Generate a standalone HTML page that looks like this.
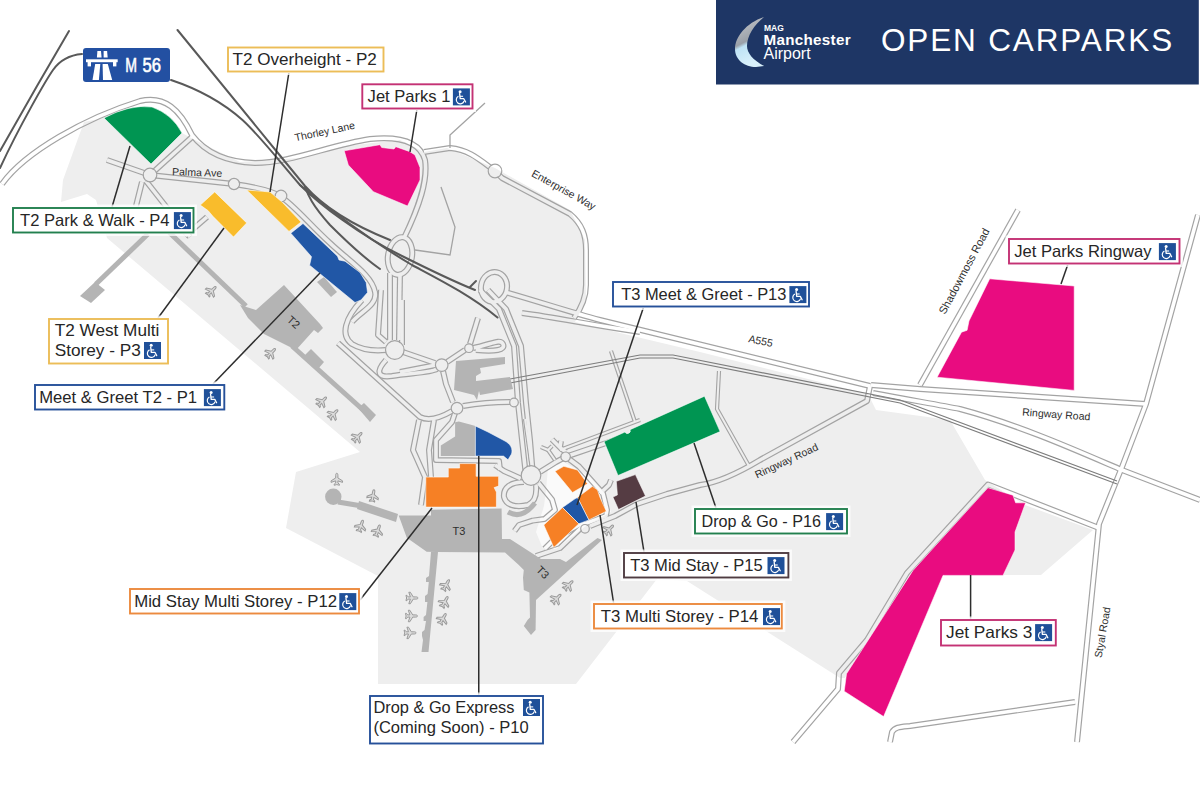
<!DOCTYPE html>
<html><head><meta charset="utf-8"><style>
html,body{margin:0;padding:0;background:#fff;width:1200px;height:799px;overflow:hidden}
svg{display:block;font-family:"Liberation Sans",sans-serif}
</style></head><body>
<svg width="1200" height="799" viewBox="0 0 1200 799">
<polygon points="84.0,122.0 104.0,118.0 182.0,133.0 195.0,140.0 240.0,162.0 300.0,158.0 345.0,146.0 400.0,140.0 424.0,152.0 447.0,148.0 495.0,168.0 570.0,210.0 585.0,240.0 586.0,300.0 575.0,322.0 620.0,333.0 700.0,352.0 868.0,394.0 876.0,410.0 950.0,420.0 985.0,480.0 1025.0,505.0 1093.0,530.0 1041.0,575.0 1003.0,575.0 1014.0,535.0 1025.0,503.0 988.0,488.0 913.0,570.0 845.0,678.0 840.0,678.0 687.0,581.0 657.0,579.0 576.0,684.0 378.0,684.0 378.0,576.0 286.0,528.0 296.0,472.0 360.0,452.0 107.0,238.0 96.0,200.0 87.0,194.0 61.0,202.0 63.0,180.0" fill="#eeeeee"/>
<polygon points="548,468 562,461 590,477 606,495 611,512 586,526 556,549 543,549 536,532 544,506 546,490" fill="#fafafa"/>
<defs><mask id="rm" maskUnits="userSpaceOnUse" x="0" y="0" width="1200" height="799"><rect width="1200" height="799" fill="#fff"/><g fill="none" stroke="#000" stroke-linejoin="round" stroke-linecap="butt">
<path d="M2,184 C25,152 85,118 140,101 C165,95 180,110 192,135 C205,152 225,162 255,163 C290,163 330,145 370,139 C400,136 420,142 425,160 C428,180 420,205 404,238" stroke-width="3.6"/>
<path d="M390,273 L390,340" stroke-width="3.6"/>
<path d="M400,273 L399,340" stroke-width="3.6"/>
<path d="M424,152 L450,148 C470,150 480,160 495,171 L502,178 L570,214 C582,224 586,235 586,250 L586,285 C586,300 580,310 574,318" stroke-width="3.6"/>
<path d="M107,160 L150,175 L234,184 C255,187 270,190 280,196 C295,206 310,225 330,243 C350,262 372,275 375,292 C378,305 360,312 352,322" stroke-width="3.6"/>
<path d="M150,175 L192,137" stroke-width="3.6"/>
<path d="M146,181 L190,237" stroke-width="3.6"/>
<path d="M142,182 L136,206" stroke-width="3.6"/>
<path d="M185,236 L207,217" stroke-width="3.6"/>
<path d="M362,300 C345,318 340,335 352,344 C362,350 376,351 386,350" stroke-width="3.6"/>
<path d="M381,290 L378,335 L386,342" stroke-width="3.6"/>
<path d="M403,352 L435,363" stroke-width="3.6"/>
<path d="M386,360 C375,372 378,378 392,376 C410,373 430,373 437,369" stroke-width="3.6"/>
<path d="M338,343 L420,417 C428,421 440,418 452,411" stroke-width="3.6"/>
<path d="M443,371 L446,384 L453,402" stroke-width="3.6"/>
<path d="M463,406 C480,403 500,402 510,402" stroke-width="3.6"/>
<path d="M447,362 L465,350" stroke-width="3.6"/>
<path d="M470,344 L478,318" stroke-width="3.6"/>
<path d="M473,348 C490,345 500,338 503,344 C506,350 495,352 476,350" stroke-width="3.6"/>
<path d="M480,290 L499,309 L514,346 L518,403 L522,440 L526,476" stroke-width="3.6"/>
<path d="M488,290 L506,309 L521,346 L526,403 L530,440 L533,476" stroke-width="3.6"/>
<path d="M455,413 L452,422 L436,440 L436,460 L499,461 L500,470" stroke-width="3.6"/>
<path d="M419,420 L413,450 L425,477 L421,505" stroke-width="3.6"/>
<path d="M434,420 L429,450 L431,477 L431,505" stroke-width="3.6"/>
<path d="M400,372 L436,365" stroke-width="3.6"/>
<path d="M402,300 L402,345" stroke-width="3.6"/>
<path d="M505,292 C540,302 570,312 600,320 L870,386" stroke-width="3.6"/>
<path d="M522,313 C560,318 590,325 640,332" stroke-width="3.6"/>
<path d="M871,385 L920,389 L1146,404" stroke-width="3.6"/>
<path d="M873,393 C910,400 940,405 960,409 C1020,425 1080,452 1122,470 L1200,500" stroke-width="3.6"/>
<path d="M870,386 L867,401 L760,460 C735,475 715,483 700,485 L667,494 L637,504 L615,516 L590,526" stroke-width="3.6"/>
<path d="M1018,210 L920,385" stroke-width="3.6"/>
<path d="M1198,215 L1146,404 L1122,467 L1099,524 L1077,742" stroke-width="3.6"/>
<path d="M1099,528 L988,484.5 L907,573 L867,640 L839,673 L838,689 L793,742" stroke-width="3.6"/>
<path d="M890,742 L892,732 C895,727 900,727 910,726 L1075,702" stroke-width="3.6"/>
<path d="M520.5,478.5 L504,471 L495,465" stroke-width="3.6"/>
<path d="M524,482 C510,482 503,488 504,497 C506,505 515,508 528,505 C535,502 537,495 536,485" stroke-width="3.6"/>
<path d="M540,472 L556,462 L565.6,456.8 L615,440" stroke-width="3.6"/>
<path d="M569,459 L579,466.5 L591,480 L603,493.5 L607,510 L606,516 L585,523.6 L579,525 L555,538.6 L544.5,549" stroke-width="3.6"/>
<path d="M538.5,483 L552,499.6 L555,510 L544.5,519 L532.5,520.6 L519,525 L514.5,531" stroke-width="3.6"/>
<path d="M600,493.5 L609,485 L611,480" stroke-width="3.6"/>
<path d="M552,439.5 L561,448.5 L566,452" stroke-width="3.6"/>
<path d="M561,441 L560,447" stroke-width="3.6"/>
<path d="M585,524 L560,548 L536,556" stroke-width="3.6"/>
<path d="M611,351 L635,422" stroke-width="2.0"/>
<path d="M719,371 L717,409 L749,466" stroke-width="2.0"/>
<path d="M560,450 L640,420" stroke-width="2.0"/>
<path d="M525,419 L531,462" stroke-width="2.0"/>
<path d="M555,460 L548,450 L552,446" stroke-width="2.0"/>
<path d="M548,450 L541,447" stroke-width="2.0"/>
<ellipse cx="400" cy="256" rx="12" ry="19" stroke-width="3.6" transform="rotate(10 400 256)"/>
<ellipse cx="494" cy="287" rx="13" ry="15" stroke-width="3.6" transform="rotate(10 494 287)"/>
</g><g fill="#000"><circle cx="150" cy="175" r="6.2"/><circle cx="234" cy="184" r="5.0"/><circle cx="281" cy="196" r="5.2"/><circle cx="495" cy="171" r="6.2"/><circle cx="394.8" cy="350" r="8.7"/><circle cx="441.7" cy="365.1" r="5.7"/><circle cx="457" cy="408.2" r="5.2"/><circle cx="514" cy="402.5" r="3.7"/><circle cx="469" cy="348.2" r="3.7"/><circle cx="531" cy="475.5" r="9.2"/><circle cx="565.6" cy="456.8" r="4.2"/><circle cx="585" cy="528.8" r="3.7"/></g></mask></defs>
<g mask="url(#rm)"><g fill="none" stroke="#a3a3a3" stroke-linejoin="round" stroke-linecap="butt">
<path d="M2,184 C25,152 85,118 140,101 C165,95 180,110 192,135 C205,152 225,162 255,163 C290,163 330,145 370,139 C400,136 420,142 425,160 C428,180 420,205 404,238" stroke-width="6.0"/>
<path d="M390,273 L390,340" stroke-width="6.0"/>
<path d="M400,273 L399,340" stroke-width="6.0"/>
<path d="M424,152 L450,148 C470,150 480,160 495,171 L502,178 L570,214 C582,224 586,235 586,250 L586,285 C586,300 580,310 574,318" stroke-width="6.0"/>
<path d="M107,160 L150,175 L234,184 C255,187 270,190 280,196 C295,206 310,225 330,243 C350,262 372,275 375,292 C378,305 360,312 352,322" stroke-width="6.0"/>
<path d="M150,175 L192,137" stroke-width="6.0"/>
<path d="M146,181 L190,237" stroke-width="6.0"/>
<path d="M142,182 L136,206" stroke-width="6.0"/>
<path d="M185,236 L207,217" stroke-width="6.0"/>
<path d="M362,300 C345,318 340,335 352,344 C362,350 376,351 386,350" stroke-width="6.0"/>
<path d="M381,290 L378,335 L386,342" stroke-width="6.0"/>
<path d="M403,352 L435,363" stroke-width="6.0"/>
<path d="M386,360 C375,372 378,378 392,376 C410,373 430,373 437,369" stroke-width="6.0"/>
<path d="M338,343 L420,417 C428,421 440,418 452,411" stroke-width="6.0"/>
<path d="M443,371 L446,384 L453,402" stroke-width="6.0"/>
<path d="M463,406 C480,403 500,402 510,402" stroke-width="6.0"/>
<path d="M447,362 L465,350" stroke-width="6.0"/>
<path d="M470,344 L478,318" stroke-width="6.0"/>
<path d="M473,348 C490,345 500,338 503,344 C506,350 495,352 476,350" stroke-width="6.0"/>
<path d="M480,290 L499,309 L514,346 L518,403 L522,440 L526,476" stroke-width="6.0"/>
<path d="M488,290 L506,309 L521,346 L526,403 L530,440 L533,476" stroke-width="6.0"/>
<path d="M455,413 L452,422 L436,440 L436,460 L499,461 L500,470" stroke-width="6.0"/>
<path d="M419,420 L413,450 L425,477 L421,505" stroke-width="6.0"/>
<path d="M434,420 L429,450 L431,477 L431,505" stroke-width="6.0"/>
<path d="M400,372 L436,365" stroke-width="6.0"/>
<path d="M402,300 L402,345" stroke-width="6.0"/>
<path d="M505,292 C540,302 570,312 600,320 L870,386" stroke-width="6.0"/>
<path d="M522,313 C560,318 590,325 640,332" stroke-width="6.0"/>
<path d="M871,385 L920,389 L1146,404" stroke-width="6.0"/>
<path d="M873,393 C910,400 940,405 960,409 C1020,425 1080,452 1122,470 L1200,500" stroke-width="6.0"/>
<path d="M870,386 L867,401 L760,460 C735,475 715,483 700,485 L667,494 L637,504 L615,516 L590,526" stroke-width="6.0"/>
<path d="M1018,210 L920,385" stroke-width="6.0"/>
<path d="M1198,215 L1146,404 L1122,467 L1099,524 L1077,742" stroke-width="6.0"/>
<path d="M1099,528 L988,484.5 L907,573 L867,640 L839,673 L838,689 L793,742" stroke-width="6.0"/>
<path d="M890,742 L892,732 C895,727 900,727 910,726 L1075,702" stroke-width="6.0"/>
<path d="M520.5,478.5 L504,471 L495,465" stroke-width="6.0"/>
<path d="M524,482 C510,482 503,488 504,497 C506,505 515,508 528,505 C535,502 537,495 536,485" stroke-width="6.0"/>
<path d="M540,472 L556,462 L565.6,456.8 L615,440" stroke-width="6.0"/>
<path d="M569,459 L579,466.5 L591,480 L603,493.5 L607,510 L606,516 L585,523.6 L579,525 L555,538.6 L544.5,549" stroke-width="6.0"/>
<path d="M538.5,483 L552,499.6 L555,510 L544.5,519 L532.5,520.6 L519,525 L514.5,531" stroke-width="6.0"/>
<path d="M600,493.5 L609,485 L611,480" stroke-width="6.0"/>
<path d="M552,439.5 L561,448.5 L566,452" stroke-width="6.0"/>
<path d="M561,441 L560,447" stroke-width="6.0"/>
<path d="M585,524 L560,548 L536,556" stroke-width="6.0"/>
<path d="M611,351 L635,422" stroke-width="4.2"/>
<path d="M719,371 L717,409 L749,466" stroke-width="4.2"/>
<path d="M560,450 L640,420" stroke-width="4.2"/>
<path d="M525,419 L531,462" stroke-width="4.2"/>
<path d="M555,460 L548,450 L552,446" stroke-width="4.2"/>
<path d="M548,450 L541,447" stroke-width="4.2"/>
<ellipse cx="400" cy="256" rx="12" ry="19" stroke-width="6.0" transform="rotate(10 400 256)"/>
<ellipse cx="494" cy="287" rx="13" ry="15" stroke-width="6.0" transform="rotate(10 494 287)"/>
</g></g>
<g fill="none" stroke="#a3a3a3" stroke-width="1.3"><path d="M450,148 L450,135 L485,103"/><path d="M441,187 L455,227 L450,255 L415,250"/></g>
<g fill="none" stroke="#a3a3a3" stroke-width="1.2"><circle cx="150" cy="175" r="6.8"/><circle cx="234" cy="184" r="5.6"/><circle cx="281" cy="196" r="5.8"/><circle cx="495" cy="171" r="6.8"/><circle cx="394.8" cy="350" r="9.3"/><circle cx="441.7" cy="365.1" r="6.3"/><circle cx="457" cy="408.2" r="5.8"/><circle cx="514" cy="402.5" r="4.3"/><circle cx="469" cy="348.2" r="4.3"/><circle cx="531" cy="475.5" r="9.8"/><circle cx="565.6" cy="456.8" r="4.8"/><circle cx="585" cy="528.8" r="4.3"/></g>
<g fill="none" stroke="#595959" stroke-width="2" stroke-linecap="round"><path d="M69,31 L37,86 L0,151"/><path d="M82,54 C70,55 60,60 53,70 C46,80 20,125 0,168"/><path d="M177.5,30 L277.5,152.5 L305,186 C320,203 345,222 390,240"/><path d="M171,80 C195,88 220,100 242.5,120 C260,136 280,162 300,185 C320,205 360,235 400,255 C430,270 455,282 475,290"/><path d="M305,187 C308,195 312,205 330,225 C345,240 360,255 380,269"/><path d="M300,185 C330,210 370,240 412,265 C440,280 470,295 497.5,317.5"/><path d="M470,287 L476,281"/></g>
<g fill="none" stroke="#7d7d7d" stroke-width="1.2"><path d="M510,379 L640,355 L673,355 L900,400 L1117,481"/><path d="M510,383 L640,358 L673,358 L900,403 L1117,484"/></g>
<polygon points="80.0,296.0 91.0,303.0 105.0,290.0 95.0,282.0" fill="#b4b4b4"/>
<polygon points="317.0,282.0 324.0,277.0 337.0,292.0 331.0,297.0" fill="#b4b4b4"/>
<polygon points="240.0,305.0 256.0,310.0 284.0,285.0 320.0,324.0 323.0,328.0 318.0,333.0 314.0,330.0 296.0,350.0 264.0,334.0 248.0,318.0" fill="#b4b4b4"/>
<polygon points="304.0,356.0 311.0,349.0 324.0,362.0 318.0,369.0" fill="#b4b4b4"/>
<polygon points="358.0,408.0 364.0,403.0 376.0,415.0 370.0,422.0" fill="#b4b4b4"/>
<polygon points="456.0,361.0 505.0,357.0 505.0,364.0 480.0,368.0 481.0,373.0 476.0,376.0 476.0,381.0 510.0,377.0 513.0,389.0 480.0,395.0 479.0,391.0 477.0,400.0 474.0,395.0 454.0,390.0" fill="#b4b4b4"/>
<polygon points="440.8,456.1 440.8,445.5 455.1,436.5 455.1,422.3 458.8,421.5 470.1,424.5 475.4,426.0 475.4,456.1" fill="#b4b4b4"/>
<polygon points="398.7,515.5 431.0,515.5 431.0,509.7 501.6,508.6 502.0,539.0 510.0,539.0 541.0,559.0 560.0,559.0 566.0,562.0 597.5,538.0 602.0,540.0 536.0,600.0 535.6,630.0 531.0,635.0 523.8,626.0 527.5,620.0 530.0,617.5 529.4,592.5 523.8,590.0 523.0,577.5 523.8,570.0 518.8,565.0 505.0,552.5 436.0,552.0 426.7,551.7 406.8,537.7" fill="#b4b4b4"/>
<polygon points="438.0,552.0 428.5,652.0 421.5,652.0 423.0,640.0 422.0,636.0 422.0,632.0 424.5,630.0 426.0,621.0 423.6,621.0 423.6,617.0 426.0,615.0 427.4,602.0 425.0,602.0 425.0,596.0 427.6,594.0 428.8,582.0 426.0,582.0 426.0,578.0 429.0,576.0 431.0,552.0" fill="#b4b4b4"/>
<polygon points="359.0,501.0 398.0,514.0 396.0,522.0 357.0,509.0" fill="#b4b4b4"/>
<g stroke="#b4b4b4" stroke-width="5" fill="none"><path d="M148,234 L96,284"/><path d="M150,214 L246,306"/><path d="M292,346 L372,418"/><path d="M338,502 L362,506"/></g>
<circle cx="333.3" cy="496.8" r="8.2" fill="#b4b4b4"/>
<path d="M508,512 Q522,520 535,503" stroke="#b4b4b4" stroke-width="5" fill="none"/>
<path d="M0,-5.5 C0.8,-5.5 1,-4.5 1,-3.5 L1,-1.2 L5.2,1.4 L5.2,2.8 L1,1.4 L1,3.4 L2.4,4.5 L2.4,5.4 L0,4.8 L-2.4,5.4 L-2.4,4.5 L-1,3.4 L-1,1.4 L-5.2,2.8 L-5.2,1.4 L-1,-1.2 L-1,-3.5 C-1,-4.5 -0.8,-5.5 0,-5.5 Z" fill="#dcdcdc" stroke="#999" stroke-width="0.9" transform="translate(211.6 291) rotate(45) scale(1.1)"/>
<path d="M0,-5.5 C0.8,-5.5 1,-4.5 1,-3.5 L1,-1.2 L5.2,1.4 L5.2,2.8 L1,1.4 L1,3.4 L2.4,4.5 L2.4,5.4 L0,4.8 L-2.4,5.4 L-2.4,4.5 L-1,3.4 L-1,1.4 L-5.2,2.8 L-5.2,1.4 L-1,-1.2 L-1,-3.5 C-1,-4.5 -0.8,-5.5 0,-5.5 Z" fill="#dcdcdc" stroke="#999" stroke-width="0.9" transform="translate(271 353) rotate(45) scale(1.1)"/>
<path d="M0,-5.5 C0.8,-5.5 1,-4.5 1,-3.5 L1,-1.2 L5.2,1.4 L5.2,2.8 L1,1.4 L1,3.4 L2.4,4.5 L2.4,5.4 L0,4.8 L-2.4,5.4 L-2.4,4.5 L-1,3.4 L-1,1.4 L-5.2,2.8 L-5.2,1.4 L-1,-1.2 L-1,-3.5 C-1,-4.5 -0.8,-5.5 0,-5.5 Z" fill="#dcdcdc" stroke="#999" stroke-width="0.9" transform="translate(322 401.5) rotate(45) scale(1.1)"/>
<path d="M0,-5.5 C0.8,-5.5 1,-4.5 1,-3.5 L1,-1.2 L5.2,1.4 L5.2,2.8 L1,1.4 L1,3.4 L2.4,4.5 L2.4,5.4 L0,4.8 L-2.4,5.4 L-2.4,4.5 L-1,3.4 L-1,1.4 L-5.2,2.8 L-5.2,1.4 L-1,-1.2 L-1,-3.5 C-1,-4.5 -0.8,-5.5 0,-5.5 Z" fill="#dcdcdc" stroke="#999" stroke-width="0.9" transform="translate(333.4 414.2) rotate(45) scale(1.1)"/>
<path d="M0,-5.5 C0.8,-5.5 1,-4.5 1,-3.5 L1,-1.2 L5.2,1.4 L5.2,2.8 L1,1.4 L1,3.4 L2.4,4.5 L2.4,5.4 L0,4.8 L-2.4,5.4 L-2.4,4.5 L-1,3.4 L-1,1.4 L-5.2,2.8 L-5.2,1.4 L-1,-1.2 L-1,-3.5 C-1,-4.5 -0.8,-5.5 0,-5.5 Z" fill="#dcdcdc" stroke="#999" stroke-width="0.9" transform="translate(357.5 437) rotate(45) scale(1.1)"/>
<path d="M0,-5.5 C0.8,-5.5 1,-4.5 1,-3.5 L1,-1.2 L5.2,1.4 L5.2,2.8 L1,1.4 L1,3.4 L2.4,4.5 L2.4,5.4 L0,4.8 L-2.4,5.4 L-2.4,4.5 L-1,3.4 L-1,1.4 L-5.2,2.8 L-5.2,1.4 L-1,-1.2 L-1,-3.5 C-1,-4.5 -0.8,-5.5 0,-5.5 Z" fill="#dcdcdc" stroke="#999" stroke-width="0.9" transform="translate(336.8 479.3) rotate(0) scale(1.1)"/>
<path d="M0,-5.5 C0.8,-5.5 1,-4.5 1,-3.5 L1,-1.2 L5.2,1.4 L5.2,2.8 L1,1.4 L1,3.4 L2.4,4.5 L2.4,5.4 L0,4.8 L-2.4,5.4 L-2.4,4.5 L-1,3.4 L-1,1.4 L-5.2,2.8 L-5.2,1.4 L-1,-1.2 L-1,-3.5 C-1,-4.5 -0.8,-5.5 0,-5.5 Z" fill="#dcdcdc" stroke="#999" stroke-width="0.9" transform="translate(373 495.7) rotate(10) scale(1.1)"/>
<path d="M0,-5.5 C0.8,-5.5 1,-4.5 1,-3.5 L1,-1.2 L5.2,1.4 L5.2,2.8 L1,1.4 L1,3.4 L2.4,4.5 L2.4,5.4 L0,4.8 L-2.4,5.4 L-2.4,4.5 L-1,3.4 L-1,1.4 L-5.2,2.8 L-5.2,1.4 L-1,-1.2 L-1,-3.5 C-1,-4.5 -0.8,-5.5 0,-5.5 Z" fill="#dcdcdc" stroke="#999" stroke-width="0.9" transform="translate(360.8 526) rotate(20) scale(1.1)"/>
<path d="M0,-5.5 C0.8,-5.5 1,-4.5 1,-3.5 L1,-1.2 L5.2,1.4 L5.2,2.8 L1,1.4 L1,3.4 L2.4,4.5 L2.4,5.4 L0,4.8 L-2.4,5.4 L-2.4,4.5 L-1,3.4 L-1,1.4 L-5.2,2.8 L-5.2,1.4 L-1,-1.2 L-1,-3.5 C-1,-4.5 -0.8,-5.5 0,-5.5 Z" fill="#dcdcdc" stroke="#999" stroke-width="0.9" transform="translate(377.7 530.7) rotate(20) scale(1.1)"/>
<path d="M0,-5.5 C0.8,-5.5 1,-4.5 1,-3.5 L1,-1.2 L5.2,1.4 L5.2,2.8 L1,1.4 L1,3.4 L2.4,4.5 L2.4,5.4 L0,4.8 L-2.4,5.4 L-2.4,4.5 L-1,3.4 L-1,1.4 L-5.2,2.8 L-5.2,1.4 L-1,-1.2 L-1,-3.5 C-1,-4.5 -0.8,-5.5 0,-5.5 Z" fill="#dcdcdc" stroke="#999" stroke-width="0.9" transform="translate(411.9 598) rotate(90) scale(1.1)"/>
<path d="M0,-5.5 C0.8,-5.5 1,-4.5 1,-3.5 L1,-1.2 L5.2,1.4 L5.2,2.8 L1,1.4 L1,3.4 L2.4,4.5 L2.4,5.4 L0,4.8 L-2.4,5.4 L-2.4,4.5 L-1,3.4 L-1,1.4 L-5.2,2.8 L-5.2,1.4 L-1,-1.2 L-1,-3.5 C-1,-4.5 -0.8,-5.5 0,-5.5 Z" fill="#dcdcdc" stroke="#999" stroke-width="0.9" transform="translate(411.4 616) rotate(90) scale(1.1)"/>
<path d="M0,-5.5 C0.8,-5.5 1,-4.5 1,-3.5 L1,-1.2 L5.2,1.4 L5.2,2.8 L1,1.4 L1,3.4 L2.4,4.5 L2.4,5.4 L0,4.8 L-2.4,5.4 L-2.4,4.5 L-1,3.4 L-1,1.4 L-5.2,2.8 L-5.2,1.4 L-1,-1.2 L-1,-3.5 C-1,-4.5 -0.8,-5.5 0,-5.5 Z" fill="#dcdcdc" stroke="#999" stroke-width="0.9" transform="translate(410 632.9) rotate(90) scale(1.1)"/>
<path d="M0,-5.5 C0.8,-5.5 1,-4.5 1,-3.5 L1,-1.2 L5.2,1.4 L5.2,2.8 L1,1.4 L1,3.4 L2.4,4.5 L2.4,5.4 L0,4.8 L-2.4,5.4 L-2.4,4.5 L-1,3.4 L-1,1.4 L-5.2,2.8 L-5.2,1.4 L-1,-1.2 L-1,-3.5 C-1,-4.5 -0.8,-5.5 0,-5.5 Z" fill="#dcdcdc" stroke="#999" stroke-width="0.9" transform="translate(446.1 585) rotate(30) scale(1.1)"/>
<path d="M0,-5.5 C0.8,-5.5 1,-4.5 1,-3.5 L1,-1.2 L5.2,1.4 L5.2,2.8 L1,1.4 L1,3.4 L2.4,4.5 L2.4,5.4 L0,4.8 L-2.4,5.4 L-2.4,4.5 L-1,3.4 L-1,1.4 L-5.2,2.8 L-5.2,1.4 L-1,-1.2 L-1,-3.5 C-1,-4.5 -0.8,-5.5 0,-5.5 Z" fill="#dcdcdc" stroke="#999" stroke-width="0.9" transform="translate(444.7 601.9) rotate(30) scale(1.1)"/>
<path d="M0,-5.5 C0.8,-5.5 1,-4.5 1,-3.5 L1,-1.2 L5.2,1.4 L5.2,2.8 L1,1.4 L1,3.4 L2.4,4.5 L2.4,5.4 L0,4.8 L-2.4,5.4 L-2.4,4.5 L-1,3.4 L-1,1.4 L-5.2,2.8 L-5.2,1.4 L-1,-1.2 L-1,-3.5 C-1,-4.5 -0.8,-5.5 0,-5.5 Z" fill="#dcdcdc" stroke="#999" stroke-width="0.9" transform="translate(442.8 618.8) rotate(30) scale(1.1)"/>
<path d="M0,-5.5 C0.8,-5.5 1,-4.5 1,-3.5 L1,-1.2 L5.2,1.4 L5.2,2.8 L1,1.4 L1,3.4 L2.4,4.5 L2.4,5.4 L0,4.8 L-2.4,5.4 L-2.4,4.5 L-1,3.4 L-1,1.4 L-5.2,2.8 L-5.2,1.4 L-1,-1.2 L-1,-3.5 C-1,-4.5 -0.8,-5.5 0,-5.5 Z" fill="#dcdcdc" stroke="#999" stroke-width="0.9" transform="translate(568.5 585.2) rotate(45) scale(1.1)"/>
<path d="M0,-5.5 C0.8,-5.5 1,-4.5 1,-3.5 L1,-1.2 L5.2,1.4 L5.2,2.8 L1,1.4 L1,3.4 L2.4,4.5 L2.4,5.4 L0,4.8 L-2.4,5.4 L-2.4,4.5 L-1,3.4 L-1,1.4 L-5.2,2.8 L-5.2,1.4 L-1,-1.2 L-1,-3.5 C-1,-4.5 -0.8,-5.5 0,-5.5 Z" fill="#dcdcdc" stroke="#999" stroke-width="0.9" transform="translate(556.5 598.7) rotate(45) scale(1.1)"/>
<path d="M0,-5.5 C0.8,-5.5 1,-4.5 1,-3.5 L1,-1.2 L5.2,1.4 L5.2,2.8 L1,1.4 L1,3.4 L2.4,4.5 L2.4,5.4 L0,4.8 L-2.4,5.4 L-2.4,4.5 L-1,3.4 L-1,1.4 L-5.2,2.8 L-5.2,1.4 L-1,-1.2 L-1,-3.5 C-1,-4.5 -0.8,-5.5 0,-5.5 Z" fill="#dcdcdc" stroke="#999" stroke-width="0.9" transform="translate(609 529.6) rotate(45) scale(1.1)"/>
<path d="M104,118 Q130,104 152,107 Q172,114 182,133 L151,164 Z" fill="#009552" stroke="#fff" stroke-width="0.7" stroke-opacity="0.8"/>
<path d="M344.2,150.8 380.0,144.7 381.7,147.5 394.0,149.0 395.8,146.7 410.0,151.7 415.0,155.0 420.0,167.5 420.0,180.0 407.5,206.0 373.3,191.7 348.3,165.0Z" fill="#e90c80" stroke="#fff" stroke-width="0.7" stroke-opacity="0.8"/>
<path d="M200.3,205.1 214.7,191.9 246.7,222.9 233.5,237.0 212.9,216.3 208.2,210.7Z" fill="#f9bc2c" stroke="#fff" stroke-width="0.7" stroke-opacity="0.8"/>
<path d="M246.7,190.0 270.1,192.0 282.3,202.3 301.1,222.0 289.0,231.4Z" fill="#f9bc2c" stroke="#fff" stroke-width="0.7" stroke-opacity="0.8"/>
<path d="M290.8,233.2 303.0,223.5 337.5,256.2 339.0,260.0 345.0,261.2 360.0,272.5 366.2,282.5 367.5,292.5 361.0,300.0 355.0,302.5 309.6,265.2 311.5,256.7Z" fill="#2157a6" stroke="#fff" stroke-width="0.7" stroke-opacity="0.8"/>
<path d="M475.4,426 L488,432 L504,440.5 C511,444 513,449 511.5,454 L508,459.8 L503.5,456.1 L475.4,456.1 Z" fill="#2157a6" stroke="#fff" stroke-width="0.7" stroke-opacity="0.8"/>
<path d="M425.8,477.1 448.3,477.1 448.3,468.1 459.6,468.1 459.6,463.6 476.1,463.6 476.1,476.3 498.6,476.3 498.6,486.1 494.1,487.6 496.4,492.1 496.4,507.1 425.8,507.1Z" fill="#f68025" stroke="#fff" stroke-width="0.7" stroke-opacity="0.8"/>
<path d="M555.0,471.3 563.8,466.3 577.5,470.0 587.5,483.8 572.5,492.5Z" fill="#f68025" stroke="#fff" stroke-width="0.7" stroke-opacity="0.8"/>
<path d="M577.5,497.5 592.5,486.3 597.5,490.0 600.0,497.5 606.3,511.3 588.8,520.0Z" fill="#f68025" stroke="#fff" stroke-width="0.7" stroke-opacity="0.8"/>
<path d="M562.5,507.5 575.0,498.8 577.5,497.5 588.8,520.0 578.8,523.8Z" fill="#2157a6" stroke="#fff" stroke-width="0.7" stroke-opacity="0.8"/>
<path d="M543.8,525.0 562.5,507.5 578.8,523.8 553.8,547.5Z" fill="#f68025" stroke="#fff" stroke-width="0.7" stroke-opacity="0.8"/>
<path d="M612.9,497.1 617.4,494.9 616.3,481.3 635.4,474.6 645.5,496.0 618.5,509.5Z" fill="#553c43" stroke="#fff" stroke-width="0.7" stroke-opacity="0.8"/>
<path d="M604,441.5 L625,432 A2.5,2.5 0 0 0 630,429.7 L704.5,396.2 L720.1,431.6 L618,475.5 Z" fill="#009552" stroke="#fff" stroke-width="0.7" stroke-opacity="0.8"/>
<path d="M989.7,278.8 1074.2,286.0 1074.2,390.4 937.1,377.2 961.5,332.2 967.1,330.3 969.0,320.9Z" fill="#e90c80" stroke="#fff" stroke-width="0.7" stroke-opacity="0.8"/>
<path d="M988.0,487.7 1013.0,495.2 1015.6,502.8 1025.6,502.8 1015.0,532.0 1015.0,550.0 1003.0,575.4 943.0,575.4 883.6,716.6 844.2,691.2 846.5,673.8 913.0,570.4Z" fill="#e90c80" stroke="#fff" stroke-width="0.7" stroke-opacity="0.8"/>
<g stroke="#2d2d2d" stroke-width="1.5"><line x1="289" y1="72" x2="270" y2="192"/><line x1="417" y1="109" x2="410" y2="152"/><line x1="112" y1="207" x2="130" y2="146"/><line x1="158" y1="318" x2="224" y2="228"/><line x1="213" y1="384" x2="320" y2="273"/><line x1="643.6" y1="307" x2="577" y2="505"/><line x1="1068" y1="264" x2="1061" y2="284"/><line x1="716" y1="508" x2="694" y2="443"/><line x1="644" y1="552" x2="636" y2="502"/><line x1="613.6" y1="603" x2="600" y2="515"/><line x1="360" y1="600" x2="432" y2="508"/><line x1="478.75" y1="695" x2="478.75" y2="456"/><line x1="970.6" y1="619" x2="970.6" y2="575"/></g>
<text x="325.5" y="135" font-size="10.5" fill="#2e2e2e" text-anchor="middle" transform="rotate(-12 325.5 135)">Thorley Lane</text>
<text x="197" y="176" font-size="10.5" fill="#2e2e2e" text-anchor="middle" transform="rotate(2 197 176)">Palma Ave</text>
<text x="562" y="193" font-size="10.5" fill="#2e2e2e" text-anchor="middle" transform="rotate(29 562 193)">Enterprise Way</text>
<text x="760" y="344.5" font-size="10.5" fill="#2e2e2e" text-anchor="middle" transform="rotate(12 760 344.5)">A555</text>
<text x="788" y="464" font-size="10.5" fill="#2e2e2e" text-anchor="middle" transform="rotate(-25 788 464)">Ringway Road</text>
<text x="1056" y="418" font-size="10.5" fill="#2e2e2e" text-anchor="middle" transform="rotate(4 1056 418)">Ringway Road</text>
<text x="967.5" y="273" font-size="11" fill="#2e2e2e" text-anchor="middle" transform="rotate(-62 967.5 273)">Shadowmoss Road</text>
<text x="1106" y="633" font-size="10.5" fill="#2e2e2e" text-anchor="middle" transform="rotate(-80 1106 633)">Styal Road</text>
<text x="291" y="325" font-size="11" fill="#2e2e2e" text-anchor="middle" transform="rotate(42 291 325)">T2</text>
<text x="459" y="535" font-size="11" fill="#2e2e2e" text-anchor="middle" transform="rotate(0 459 535)">T3</text>
<text x="540" y="575" font-size="11" fill="#2e2e2e" text-anchor="middle" transform="rotate(45 540 575)">T3</text>
<rect x="226.5" y="46.0" width="158.5" height="27.0" fill="#fff" stroke="#fff" stroke-width="4" stroke-opacity="0.75"/>
<rect x="228" y="47.5" width="155.5" height="24.0" fill="#fff" stroke="#ecbd58" stroke-width="1.9"/>
<text x="232.6" y="65.3" font-size="16.5" fill="#262626" textLength="144.19999999999996" lengthAdjust="spacingAndGlyphs">T2 Overheight - P2</text>
<rect x="360.8" y="82.8" width="113.19999999999999" height="27.200000000000003" fill="#fff" stroke="#fff" stroke-width="4" stroke-opacity="0.75"/>
<rect x="362.3" y="84.3" width="110.19999999999999" height="24.200000000000003" fill="#fff" stroke="#c43274" stroke-width="1.9"/>
<text x="367.59999999999997" y="102.1" font-size="16.5" fill="#262626" textLength="82.90000000000005" lengthAdjust="spacingAndGlyphs">Jet Parks 1</text>
<g transform="translate(452.90000000000003,88.39999999999999) scale(1.0)"><rect width="17" height="17" fill="#1f5099"/><circle cx="7.2" cy="3.3" r="1.5" fill="#fff"/><path d="M6.7,5.2 L7.3,10.3 L10.9,10.3 L12.7,13.6" fill="none" stroke="#fff" stroke-width="1.3" stroke-linecap="round" stroke-linejoin="round"/><path d="M7,7.9 L10.2,7.9" stroke="#fff" stroke-width="1.1"/><path d="M5.5,7.9 A4,4 0 1 0 11.2,12.6" fill="none" stroke="#fff" stroke-width="1.2"/></g>
<rect x="11.5" y="206.5" width="183.5" height="27.5" fill="#fff" stroke="#fff" stroke-width="4" stroke-opacity="0.75"/>
<rect x="13" y="208" width="180.5" height="24.5" fill="#fff" stroke="#23804f" stroke-width="1.9"/>
<text x="20.0" y="225.8" font-size="16.5" fill="#262626" textLength="149.59999999999997" lengthAdjust="spacingAndGlyphs">T2 Park &amp; Walk - P4</text>
<g transform="translate(173.9,212.1) scale(1.0)"><rect width="17" height="17" fill="#1f5099"/><circle cx="7.2" cy="3.3" r="1.5" fill="#fff"/><path d="M6.7,5.2 L7.3,10.3 L10.9,10.3 L12.7,13.6" fill="none" stroke="#fff" stroke-width="1.3" stroke-linecap="round" stroke-linejoin="round"/><path d="M7,7.9 L10.2,7.9" stroke="#fff" stroke-width="1.1"/><path d="M5.5,7.9 A4,4 0 1 0 11.2,12.6" fill="none" stroke="#fff" stroke-width="1.2"/></g>
<rect x="47.5" y="317.5" width="122" height="47.5" fill="#fff" stroke="#fff" stroke-width="4" stroke-opacity="0.75"/>
<rect x="49" y="319" width="119" height="44.5" fill="#fff" stroke="#ecbd58" stroke-width="1.9"/>
<text x="54.7" y="336.3" font-size="16.5" fill="#262626" textLength="104.7" lengthAdjust="spacingAndGlyphs">T2 West Multi</text>
<text x="54.7" y="356.0" font-size="16.5" fill="#262626" textLength="86.2" lengthAdjust="spacingAndGlyphs">Storey - P3</text>
<g transform="translate(144,342) scale(1.0)"><rect width="17" height="17" fill="#1f5099"/><circle cx="7.2" cy="3.3" r="1.5" fill="#fff"/><path d="M6.7,5.2 L7.3,10.3 L10.9,10.3 L12.7,13.6" fill="none" stroke="#fff" stroke-width="1.3" stroke-linecap="round" stroke-linejoin="round"/><path d="M7,7.9 L10.2,7.9" stroke="#fff" stroke-width="1.1"/><path d="M5.5,7.9 A4,4 0 1 0 11.2,12.6" fill="none" stroke="#fff" stroke-width="1.2"/></g>
<rect x="33.5" y="383.5" width="192.3" height="27.5" fill="#fff" stroke="#fff" stroke-width="4" stroke-opacity="0.75"/>
<rect x="35" y="385" width="189.3" height="24.5" fill="#fff" stroke="#26519a" stroke-width="1.9"/>
<text x="39.2" y="402.8" font-size="16.5" fill="#262626" textLength="157.89999999999998" lengthAdjust="spacingAndGlyphs">Meet &amp; Greet T2 - P1</text>
<g transform="translate(203.9,389.1) scale(1.0)"><rect width="17" height="17" fill="#1f5099"/><circle cx="7.2" cy="3.3" r="1.5" fill="#fff"/><path d="M6.7,5.2 L7.3,10.3 L10.9,10.3 L12.7,13.6" fill="none" stroke="#fff" stroke-width="1.3" stroke-linecap="round" stroke-linejoin="round"/><path d="M7,7.9 L10.2,7.9" stroke="#fff" stroke-width="1.1"/><path d="M5.5,7.9 A4,4 0 1 0 11.2,12.6" fill="none" stroke="#fff" stroke-width="1.2"/></g>
<rect x="611.5" y="280.5" width="199" height="27.5" fill="#fff" stroke="#fff" stroke-width="4" stroke-opacity="0.75"/>
<rect x="613" y="282" width="196" height="24.5" fill="#fff" stroke="#26519a" stroke-width="1.9"/>
<text x="621.2" y="299.8" font-size="16.5" fill="#262626" textLength="165.2" lengthAdjust="spacingAndGlyphs">T3 Meet &amp; Greet - P13</text>
<g transform="translate(789.4,286.1) scale(1.0)"><rect width="17" height="17" fill="#1f5099"/><circle cx="7.2" cy="3.3" r="1.5" fill="#fff"/><path d="M6.7,5.2 L7.3,10.3 L10.9,10.3 L12.7,13.6" fill="none" stroke="#fff" stroke-width="1.3" stroke-linecap="round" stroke-linejoin="round"/><path d="M7,7.9 L10.2,7.9" stroke="#fff" stroke-width="1.1"/><path d="M5.5,7.9 A4,4 0 1 0 11.2,12.6" fill="none" stroke="#fff" stroke-width="1.2"/></g>
<rect x="1007.5" y="237.5" width="173.5" height="27.5" fill="#fff" stroke="#fff" stroke-width="4" stroke-opacity="0.75"/>
<rect x="1009" y="239" width="170.5" height="24.5" fill="#fff" stroke="#c43274" stroke-width="1.9"/>
<text x="1014.2" y="256.8" font-size="16.5" fill="#262626" textLength="137.40000000000003" lengthAdjust="spacingAndGlyphs">Jet Parks Ringway</text>
<g transform="translate(1158.8999999999999,243.1) scale(1.0)"><rect width="17" height="17" fill="#1f5099"/><circle cx="7.2" cy="3.3" r="1.5" fill="#fff"/><path d="M6.7,5.2 L7.3,10.3 L10.9,10.3 L12.7,13.6" fill="none" stroke="#fff" stroke-width="1.3" stroke-linecap="round" stroke-linejoin="round"/><path d="M7,7.9 L10.2,7.9" stroke="#fff" stroke-width="1.1"/><path d="M5.5,7.9 A4,4 0 1 0 11.2,12.6" fill="none" stroke="#fff" stroke-width="1.2"/></g>
<rect x="693.5" y="507.5" width="155" height="27.5" fill="#fff" stroke="#fff" stroke-width="4" stroke-opacity="0.75"/>
<rect x="695" y="509" width="152" height="24.5" fill="#fff" stroke="#23804f" stroke-width="1.9"/>
<text x="701.5" y="526.8" font-size="16.5" fill="#262626" textLength="119.40000000000005" lengthAdjust="spacingAndGlyphs">Drop &amp; Go - P16</text>
<g transform="translate(826.1,513.1) scale(1.0)"><rect width="17" height="17" fill="#1f5099"/><circle cx="7.2" cy="3.3" r="1.5" fill="#fff"/><path d="M6.7,5.2 L7.3,10.3 L10.9,10.3 L12.7,13.6" fill="none" stroke="#fff" stroke-width="1.3" stroke-linecap="round" stroke-linejoin="round"/><path d="M7,7.9 L10.2,7.9" stroke="#fff" stroke-width="1.1"/><path d="M5.5,7.9 A4,4 0 1 0 11.2,12.6" fill="none" stroke="#fff" stroke-width="1.2"/></g>
<rect x="622.5" y="551.5" width="167.39999999999998" height="27.5" fill="#fff" stroke="#fff" stroke-width="4" stroke-opacity="0.75"/>
<rect x="624" y="553" width="164.39999999999998" height="24.5" fill="#fff" stroke="#4f3c42" stroke-width="1.9"/>
<text x="630.2" y="570.8" font-size="16.5" fill="#262626" textLength="132.59999999999997" lengthAdjust="spacingAndGlyphs">T3 Mid Stay - P15</text>
<g transform="translate(767.5,557.1) scale(1.0)"><rect width="17" height="17" fill="#1f5099"/><circle cx="7.2" cy="3.3" r="1.5" fill="#fff"/><path d="M6.7,5.2 L7.3,10.3 L10.9,10.3 L12.7,13.6" fill="none" stroke="#fff" stroke-width="1.3" stroke-linecap="round" stroke-linejoin="round"/><path d="M7,7.9 L10.2,7.9" stroke="#fff" stroke-width="1.1"/><path d="M5.5,7.9 A4,4 0 1 0 11.2,12.6" fill="none" stroke="#fff" stroke-width="1.2"/></g>
<rect x="592.5" y="602.5" width="190.79999999999995" height="27.5" fill="#fff" stroke="#fff" stroke-width="4" stroke-opacity="0.75"/>
<rect x="594" y="604" width="187.79999999999995" height="24.5" fill="#fff" stroke="#ec8a3e" stroke-width="1.9"/>
<text x="600.8000000000001" y="621.8" font-size="16.5" fill="#262626" textLength="157.49999999999994" lengthAdjust="spacingAndGlyphs">T3 Multi Storey - P14</text>
<g transform="translate(763.0,608.1) scale(1.0)"><rect width="17" height="17" fill="#1f5099"/><circle cx="7.2" cy="3.3" r="1.5" fill="#fff"/><path d="M6.7,5.2 L7.3,10.3 L10.9,10.3 L12.7,13.6" fill="none" stroke="#fff" stroke-width="1.3" stroke-linecap="round" stroke-linejoin="round"/><path d="M7,7.9 L10.2,7.9" stroke="#fff" stroke-width="1.1"/><path d="M5.5,7.9 A4,4 0 1 0 11.2,12.6" fill="none" stroke="#fff" stroke-width="1.2"/></g>
<rect x="128.5" y="587.5" width="232" height="27.5" fill="#fff" stroke="#fff" stroke-width="4" stroke-opacity="0.75"/>
<rect x="130" y="589" width="229" height="24.5" fill="#fff" stroke="#ec8a3e" stroke-width="1.9"/>
<text x="134.2" y="606.8" font-size="16.5" fill="#262626" textLength="202.89999999999998" lengthAdjust="spacingAndGlyphs">Mid Stay Multi Storey - P12</text>
<g transform="translate(339.3,593.1) scale(1.0)"><rect width="17" height="17" fill="#1f5099"/><circle cx="7.2" cy="3.3" r="1.5" fill="#fff"/><path d="M6.7,5.2 L7.3,10.3 L10.9,10.3 L12.7,13.6" fill="none" stroke="#fff" stroke-width="1.3" stroke-linecap="round" stroke-linejoin="round"/><path d="M7,7.9 L10.2,7.9" stroke="#fff" stroke-width="1.1"/><path d="M5.5,7.9 A4,4 0 1 0 11.2,12.6" fill="none" stroke="#fff" stroke-width="1.2"/></g>
<rect x="368.5" y="694.5" width="176" height="50.5" fill="#fff" stroke="#fff" stroke-width="4" stroke-opacity="0.75"/>
<rect x="370" y="696" width="173" height="47.5" fill="#fff" stroke="#26519a" stroke-width="1.9"/>
<text x="373.4" y="713.3" font-size="16.5" fill="#262626" textLength="141.0" lengthAdjust="spacingAndGlyphs">Drop &amp; Go Express</text>
<text x="373.4" y="733.0" font-size="16.5" fill="#262626" textLength="155.29999999999995" lengthAdjust="spacingAndGlyphs">(Coming Soon) - P10</text>
<g transform="translate(523,699) scale(1.0)"><rect width="17" height="17" fill="#1f5099"/><circle cx="7.2" cy="3.3" r="1.5" fill="#fff"/><path d="M6.7,5.2 L7.3,10.3 L10.9,10.3 L12.7,13.6" fill="none" stroke="#fff" stroke-width="1.3" stroke-linecap="round" stroke-linejoin="round"/><path d="M7,7.9 L10.2,7.9" stroke="#fff" stroke-width="1.1"/><path d="M5.5,7.9 A4,4 0 1 0 11.2,12.6" fill="none" stroke="#fff" stroke-width="1.2"/></g>
<rect x="939.5" y="618.5" width="117.79999999999995" height="28.5" fill="#fff" stroke="#fff" stroke-width="4" stroke-opacity="0.75"/>
<rect x="941" y="620" width="114.79999999999995" height="25.5" fill="#fff" stroke="#c43274" stroke-width="1.9"/>
<text x="946.0" y="637.8" font-size="16.5" fill="#262626" textLength="86.40000000000005" lengthAdjust="spacingAndGlyphs">Jet Parks 3</text>
<g transform="translate(1035.1,624.1) scale(1.0)"><rect width="17" height="17" fill="#1f5099"/><circle cx="7.2" cy="3.3" r="1.5" fill="#fff"/><path d="M6.7,5.2 L7.3,10.3 L10.9,10.3 L12.7,13.6" fill="none" stroke="#fff" stroke-width="1.3" stroke-linecap="round" stroke-linejoin="round"/><path d="M7,7.9 L10.2,7.9" stroke="#fff" stroke-width="1.1"/><path d="M5.5,7.9 A4,4 0 1 0 11.2,12.6" fill="none" stroke="#fff" stroke-width="1.2"/></g>
<rect x="83" y="48" width="87" height="34" rx="3" fill="#2350a2"/>
<g fill="#fff"><rect x="86" y="59.3" width="31.7" height="2.9"/><rect x="87.6" y="62" width="3.4" height="4.4"/><rect x="113" y="62" width="3.4" height="4.4"/><polygon points="97.4,51 101,51 101.6,57.6 96.9,57.6"/><polygon points="103.6,51 107.1,51 107.7,57.6 103.6,57.6"/><polygon points="95.2,64 100.3,64 98.9,80 92.5,80"/><polygon points="102.6,64 107.8,64 112.2,80 103,80"/></g>
<text transform="translate(125.3 72.2) scale(0.72 1)" font-size="19.6" fill="#fff" stroke="#fff" stroke-width="0.6">M</text>
<text transform="translate(142.6 72.2) scale(0.85 1)" font-size="19.6" fill="#fff" stroke="#fff" stroke-width="0.6">56</text>
<rect x="716" y="0" width="482.8" height="84.5" fill="#1e3665"/>
<defs><linearGradient id="cres" x1="0" y1="0" x2="0.3" y2="1"><stop offset="0" stop-color="#c9cbd0"/><stop offset="0.55" stop-color="#9aa0a8"/><stop offset="0.62" stop-color="#bfe3f5"/><stop offset="1" stop-color="#d9f0fb"/></linearGradient></defs>
<path d="M764,17 C746,23 735,37 735,49 C735,60 745,67 756,67 L764,66 C753,60 747,53 747,46 C747,36 754,25 764,17 Z" fill="url(#cres)"/>
<text x="764" y="30.5" font-size="8.5" font-weight="bold" fill="#fff">MAG</text>
<text x="763.5" y="44.7" font-size="15.2" font-weight="bold" fill="#fff" letter-spacing="0.3">Manchester</text>
<text x="763.5" y="58.5" font-size="16" fill="#fff">Airport</text>
<text x="881" y="50.8" font-size="31.5" fill="#fff" letter-spacing="1.85">OPEN CARPARKS</text>
</svg></body></html>
